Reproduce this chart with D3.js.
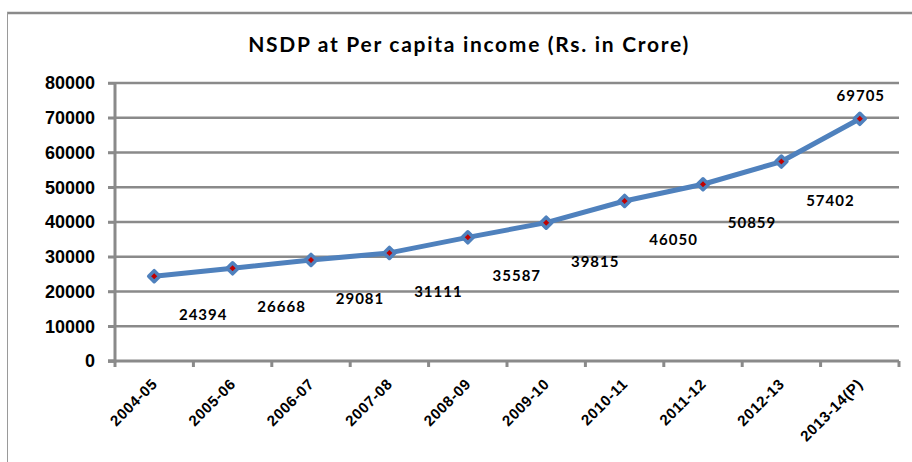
<!DOCTYPE html>
<html><head><meta charset="utf-8">
<script src="https://cdn.jsdelivr.net/npm/d3@7"></script>
<style>html,body{margin:0;padding:0;background:#fff;}</style>
</head><body>
<svg id="c" width="912" height="462"></svg>
<script>
const categories = ["2004-05","2005-06","2006-07","2007-08","2008-09","2009-10","2010-11","2011-12","2012-13","2013-14(P)"];
const values = [24394,26668,29081,31111,35587,39815,46050,50859,57402,69705];
const yTicks = [0,10000,20000,30000,40000,50000,60000,70000,80000];
const title = "NSDP at Per capita income (Rs. in Crore)";

const svg = d3.select("#c");
const m = {left:115, right:899, top:83, bottom:361};
const x = d3.scaleBand().domain(categories).range([m.left, m.right]);
const y = d3.scaleLinear().domain([0,80000]).range([m.bottom, m.top]);
const grey = "#8a8a8a";

// outer border
svg.append("line").attr("x1",7).attr("x2",912).attr("y1",13).attr("y2",13).attr("stroke",grey).attr("stroke-width",2.5);
svg.append("line").attr("x1",7.5).attr("x2",7.5).attr("y1",12).attr("y2",462).attr("stroke","#9a9a9a").attr("stroke-width",1);

// title
svg.append("text").attr("x",469).attr("y",52).attr("text-anchor","middle")
  .attr("font-family","Lato, 'Open Sans', sans-serif").attr("font-weight","bold").attr("font-size",21)
  .attr("letter-spacing","1.7px").attr("fill","#000").text(title);

// gridlines
svg.append("g").selectAll("line").data(yTicks.filter(d=>d>0)).join("line")
  .attr("x1",108).attr("x2",m.right).attr("y1",d=>y(d)).attr("y2",d=>y(d))
  .attr("stroke",grey).attr("stroke-width",2.5);

// y axis
const ya = svg.append("g").attr("transform",`translate(${m.left},0)`)
  .call(d3.axisLeft(y).tickValues(yTicks).tickSize(7).tickPadding(13).tickFormat(d3.format("d")));
ya.select(".domain").attr("stroke",grey).attr("stroke-width",3).attr("d",`M-7,${m.bottom}H0V${m.top}`);
ya.selectAll(".tick line").attr("stroke",grey).attr("stroke-width",2.5);
ya.selectAll("text").attr("font-family","'Liberation Sans', Arial, sans-serif").attr("font-weight","bold").attr("font-size",18).attr("fill","#000");

// x axis line and ticks at band boundaries
svg.append("line").attr("x1",m.left-7).attr("x2",m.right).attr("y1",m.bottom).attr("y2",m.bottom).attr("stroke",grey).attr("stroke-width",3);
const bounds = categories.map(c=>x(c)).concat([x(categories[categories.length-1])+x.bandwidth()]);
svg.append("g").selectAll("line").data(bounds).join("line")
  .attr("x1",d=>d).attr("x2",d=>d).attr("y1",m.bottom).attr("y2",m.bottom+6)
  .attr("stroke",grey).attr("stroke-width",3);

// x labels
svg.append("g").selectAll("text").data(categories).join("text")
  .attr("transform",d=>`translate(${x(d)+x.bandwidth()/2+4},${m.bottom+24}) rotate(-45)`)
  .attr("text-anchor","end")
  .attr("font-family","'Liberation Sans', Arial, sans-serif").attr("font-weight","bold").attr("font-size",15)
  .attr("letter-spacing","0.6px").attr("fill","#000").text(d=>d);

// line
const cx = (d,i)=>x(categories[i])+x.bandwidth()/2;
const line = d3.line().x((d,i)=>cx(d,i)).y(d=>y(d));
svg.append("path").datum(values).attr("d",line).attr("fill","none").attr("stroke","#4F81BD").attr("stroke-width",5).attr("stroke-linejoin","round");

// markers (square diamonds)
const r = 5.5;
svg.append("g").selectAll("path").data(values).join("path")
  .attr("transform",(d,i)=>`translate(${cx(d,i)},${y(d)})`)
  .attr("d",`M0,${-r}L${r},0L0,${r}L${-r},0Z`).attr("fill","#C00000").attr("stroke","#4F81BD").attr("stroke-width",3.5).attr("stroke-linejoin","round");

// data labels
const last = values.length-1;
svg.append("g").selectAll("text").data(values).join("text")
  .attr("x",(d,i)=> i===last ? cx(d,i)+1 : cx(d,i)+49)
  .attr("y",(d,i)=> i===last ? y(d)-18 : y(d)+44)
  .attr("text-anchor","middle")
  .attr("font-family","Lato, 'Open Sans', sans-serif").attr("font-weight","bold").attr("font-size",15)
  .attr("letter-spacing","1px").attr("fill","#000").text(d=>d);
</script>
</body></html>
